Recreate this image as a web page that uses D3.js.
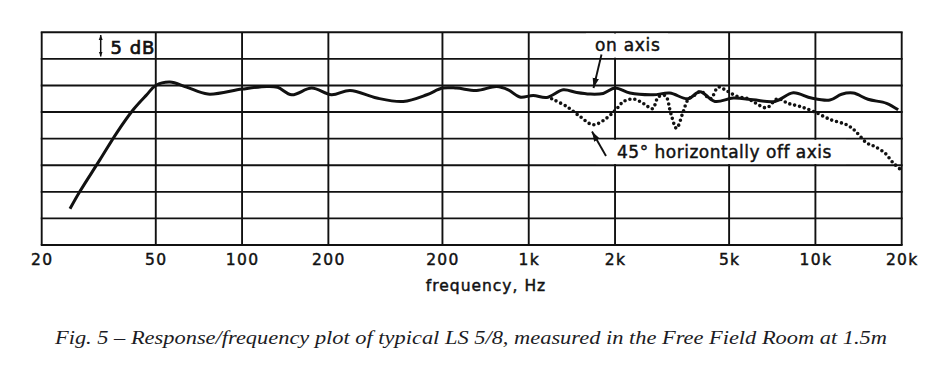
<!DOCTYPE html>
<html>
<head>
<meta charset="utf-8">
<script src="https://cdn.jsdelivr.net/npm/d3@7/dist/d3.min.js"></script>
<style>
  html, body { margin: 0; padding: 0; background: #fff; }
  svg { display: block; }
</style>
</head>
<body>
<svg id="chart" width="930" height="368"></svg>
<script>
// ---- data ----
const freqTicks = [20, 50, 100, 200, 500, 1000, 2000, 5000, 10000, 20000];
const freqLabels = ["20", "50", "100", "200", "200", "1k", "2k", "5k", "10k", "20k"];
const dbTicks = [-30, -25, -20, -15, -10, -5, 0, 5, 10];

const onAxisFreq = [25.1, 27.2, 31.9, 36.5, 41.7, 46.5, 50, 56, 64, 76, 100, 122, 133, 149, 175, 205, 238, 295, 365, 441, 500, 560, 658, 773, 848, 931, 1037, 1154, 1319, 1469, 1635, 1819, 2000, 2254, 2718, 3105, 3592, 3956, 4463, 5170, 6070, 7226, 8370, 9684, 11230, 12340, 13550, 15250, 17710, 19440];
const onAxisDb = [-23.2, -19.9, -14.0, -8.95, -4.57, -1.75, 0, 0.64, -0.3, -1.62, -0.68, -0.19, -0.34, -1.75, -0.49, -1.75, -0.94, -2.37, -3.0, -1.75, -0.49, -0.49, -0.94, -0.19, -0.81, -2.18, -1.88, -2.26, -0.81, -1.32, -1.62, -1.5, -0.49, -1.43, -1.75, -1.43, -2.5, -1.18, -3.0, -2.37, -2.69, -3.0, -1.37, -2.37, -2.74, -1.65, -1.43, -2.6, -3.35, -4.57];

const offAxisFreq = [1202, 1356, 1509, 1679, 1870, 2026, 2148, 2328, 2523, 2702, 2835, 2998, 3133, 3276, 3458, 3592, 3748, 3986, 4303, 4582, 4900, 5324, 5816, 6152, 6759, 7372, 8018, 8830, 9825, 11324, 12850, 13736, 15090, 16128, 17476, 18634, 19711];
const offAxisDb = [-2.5, -3.95, -5.83, -7.39, -6.13, -4.38, -2.97, -2.56, -3.44, -4.38, -2.12, -1.94, -5.32, -8.05, -4.94, -2.69, -2.03, -1.13, -2.5, -0.3, -1.0, -2.03, -2.5, -3.25, -4.19, -2.5, -3.35, -3.95, -4.85, -6.45, -7.39, -8.5, -10.8, -11.5, -12.7, -14.5, -15.7];

const xTitle = "frequency, Hz";
const scaleLabel = "5 dB";
const onAxisLabel = "on axis";
const offAxisLabel = "45\u00b0 horizontally off axis";
const caption = "Fig. 5 \u2013 Response/frequency plot of typical LS 5/8, measured in the Free Field Room at 1.5m";

// ---- layout ----
(function () {
const svg = d3.select("#chart");
const pLeft = 41.7, pRight = 901.7, pTop = 32.3, pBottom = 245;
const x = d3.scaleLog().domain([20, 20000]).range([pLeft, pRight]);
const y = d3.scaleLinear().domain([-30, 10]).range([pBottom, pTop]);
const ink = "#111";
const sans = "'DejaVu Sans', sans-serif";
const bolden = sel => sel.attr("stroke", ink).attr("stroke-width", 0.45).attr("paint-order", "stroke");

svg.append("rect").attr("width", 930).attr("height", 368).attr("fill", "#fff");

// grid
const grid = svg.append("g").attr("stroke", ink).attr("stroke-width", 1.9).attr("fill", "none");
grid.selectAll("line.v").data(freqTicks).join("line").attr("class", "v")
  .attr("x1", d => x(d)).attr("x2", d => x(d))
  .attr("y1", pTop).attr("y2", pBottom);
grid.selectAll("line.h").data(dbTicks).join("line").attr("class", "h")
  .attr("x1", pLeft - 0.95).attr("x2", pRight + 0.95)
  .attr("y1", d => y(d)).attr("y2", d => y(d));

// white label boxes interrupting the vertical grid
const rowH = y(5) - y(10);
svg.append("rect").attr("x", 586).attr("y", y(10) + 1.2).attr("width", 82).attr("height", rowH - 2.4).attr("fill", "#fff");
svg.append("rect").attr("x", 596).attr("y", y(-10) + 1.2).attr("width", 250).attr("height", rowH - 2.4).attr("fill", "#fff");

// x axis labels
const xAxis = d3.axisBottom(x).tickValues(freqTicks)
  .tickFormat((d, i) => freqLabels[i]).tickSize(0).tickPadding(8.5);
const ax = svg.append("g").attr("transform", `translate(0,${pBottom})`).call(xAxis);
ax.select(".domain").remove();
ax.selectAll("text").attr("font-family", sans).attr("font-size", 15.5)
  .attr("fill", ink).style("letter-spacing", "1.3px").call(bolden);

svg.append("text").attr("x", 486).attr("y", 290.5).attr("text-anchor", "middle")
  .attr("font-family", sans).attr("font-size", 15.5).style("letter-spacing", "1px")
  .attr("fill", ink).call(bolden).text(xTitle);

// 5 dB scale marker
svg.append("text").attr("x", 110.5).attr("y", 53.7)
  .attr("font-family", sans).attr("font-size", 18).style("letter-spacing", "1px")
  .attr("fill", ink).call(bolden).attr("stroke-width", 0.7).text(scaleLabel);

const defs = svg.append("defs");
defs.append("marker").attr("id", "ah").attr("viewBox", "0 0 10 10")
  .attr("refX", 10).attr("refY", 5).attr("markerWidth", 10).attr("markerHeight", 10)
  .attr("markerUnits", "userSpaceOnUse").attr("orient", "auto-start-reverse")
  .append("path").attr("d", "M0,1.8 L10,5 L0,8.2 Z").attr("fill", ink);
defs.append("marker").attr("id", "sh").attr("viewBox", "0 0 10 10")
  .attr("refX", 10).attr("refY", 5).attr("markerWidth", 5).attr("markerHeight", 5)
  .attr("markerUnits", "userSpaceOnUse").attr("orient", "auto-start-reverse")
  .append("path").attr("d", "M0,1 L10,5 L0,9 Z").attr("fill", ink);

svg.append("line").attr("x1", 100.7).attr("x2", 100.7).attr("y1", 35).attr("y2", 56.5)
  .attr("stroke", ink).attr("stroke-width", 1.5)
  .attr("marker-start", "url(#sh)").attr("marker-end", "url(#sh)");

// curves
const line = d3.line().x(d => x(d[0])).y(d => y(d[1])).curve(d3.curveCatmullRom.alpha(0.5));
const onData = onAxisFreq.map((f, i) => [f, onAxisDb[i]]);
const offData = offAxisFreq.map((f, i) => [f, offAxisDb[i]]);

svg.append("path").attr("d", line(offData)).attr("fill", "none")
  .attr("stroke", ink).attr("stroke-width", 3.6).attr("stroke-linecap", "round")
  .attr("stroke-dasharray", "0 5");
svg.append("path").attr("d", line(onData)).attr("fill", "none")
  .attr("stroke", ink).attr("stroke-width", 3).attr("stroke-linejoin", "round");

// annotations
svg.append("text").attr("x", 595).attr("y", 51)
  .attr("font-family", sans).attr("font-size", 17).style("letter-spacing", "0.7px")
  .attr("fill", ink).call(bolden).text(onAxisLabel);
svg.append("line").attr("x1", 601.5).attr("y1", 54.5).attr("x2", 593.5).attr("y2", 88)
  .attr("stroke", ink).attr("stroke-width", 1.9).attr("marker-end", "url(#ah)");

svg.append("text").attr("x", 617).attr("y", 158)
  .attr("font-family", sans).attr("font-size", 17).style("letter-spacing", "0.5px")
  .attr("fill", ink).call(bolden).text(offAxisLabel);
svg.append("line").attr("x1", 606).attr("y1", 156).attr("x2", 592).attr("y2", 131.5)
  .attr("stroke", ink).attr("stroke-width", 1.9).attr("marker-end", "url(#ah)");

// caption
svg.append("text").attr("x", 55).attr("y", 344)
  .attr("font-family", "'Liberation Serif', serif").attr("font-style", "italic")
  .attr("font-size", 19.5).attr("fill", "#1c1c24")
  .attr("textLength", 832).attr("lengthAdjust", "spacingAndGlyphs")
  .text(caption);
})();
</script>
</body>
</html>
